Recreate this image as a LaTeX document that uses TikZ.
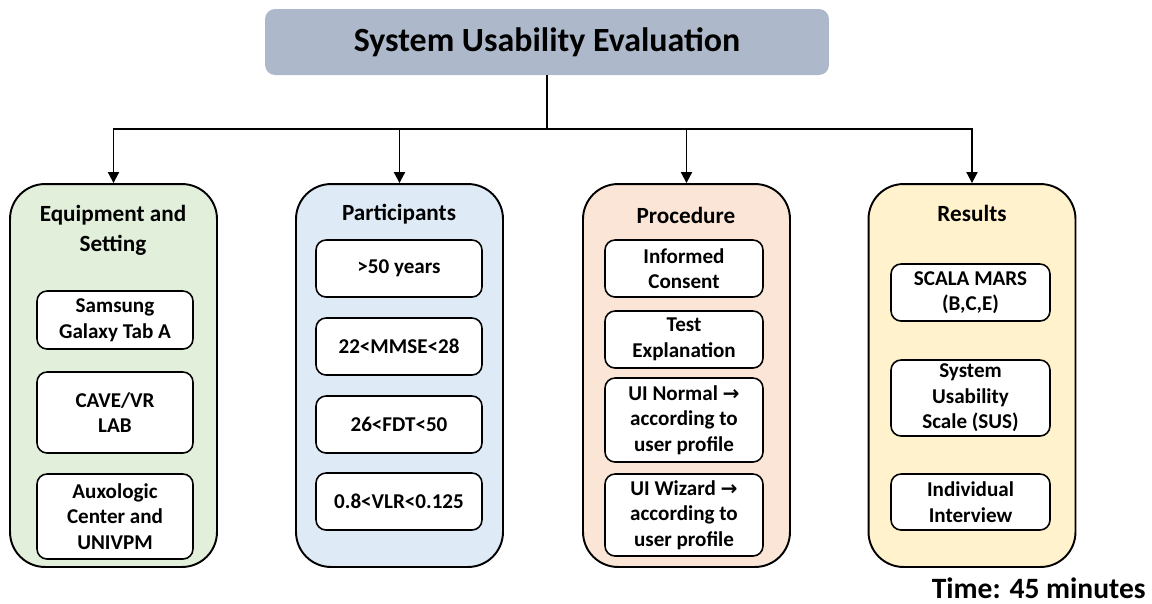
\documentclass[tikz,border=0pt]{standalone}
\usepackage{fontspec}
\setmainfont{Carlito}
\newfontfamily\symfont{DejaVu Sans}
\usetikzlibrary{arrows.meta}
\definecolor{titlefill}{HTML}{ADB9CA}
\definecolor{greenfill}{HTML}{E2EFDA}
\definecolor{bluefill}{HTML}{DEEBF7}
\definecolor{orangefill}{HTML}{FBE5D6}
\definecolor{yellowfill}{HTML}{FFF2CC}
\tikzset{
  titlebox/.style={fill=titlefill, rounded corners=0.2cm, minimum width=11.28cm, minimum height=1.32cm, font=\fontsize{19.3}{23}\selectfont\bfseries},
  colbox/.style={draw=black, line width=1.1pt, rounded corners=0.7cm, minimum width=4.14cm, minimum height=7.66cm},
  coltitle/.style={align=center, font=\fontsize{13.2}{17}\selectfont\bfseries},
  item/.style={draw=black, fill=white, line width=0.9pt, rounded corners=0.2cm, align=center, inner sep=1pt, font=\fontsize{12}{14.6}\selectfont\bfseries},
  conn/.style={line width=1.1pt, draw=black},
  arr/.style={conn, -{Triangle[length=2.2mm,width=2.2mm]}}
}
\newcommand\rarrow{{\symfont\fontsize{11.5}{14.6}\selectfont →}}
\begin{document}
\begin{tikzpicture}[x=0.02cm,y=-0.02cm]
\useasboundingbox (0,0) rectangle (1152,603);
% title
\node[titlebox] (title) at (547,42) {System Usability Evaluation};
% columns
\node[colbox, fill=greenfill] (eq) at (113.5,375.5) {};
\node[colbox, fill=bluefill] (pa) at (399.5,375.5) {};
\node[colbox, fill=orangefill] (pr) at (686.5,375.5) {};
\node[colbox, fill=yellowfill] (re) at (972,375.5) {};
% column titles
\node[coltitle] (eqt) at (113,230) {Equipment and\\Setting};
\node[coltitle] (pat) at (399,214) {Participants};
\node[coltitle] (prt) at (686,215) {Procedure};
\node[coltitle] (ret) at (972,213) {Results};
% equipment items
\node[item, minimum width=3.12cm, minimum height=1.16cm] (eq1) at (115,320) {Samsung\\Galaxy Tab A};
\node[item, minimum width=3.12cm, minimum height=1.62cm] (eq2) at (115,412.5) {CAVE/VR\\LAB};
\node[item, minimum width=3.12cm, minimum height=1.70cm] (eq3) at (115,516.5) {Auxologic\\Center and\\UNIVPM};
% participants items
\node[item, minimum width=3.32cm, minimum height=1.14cm] (pa1) at (399,268.5) {>50 years};
\node[item, minimum width=3.32cm, minimum height=1.14cm] (pa2) at (399,346.5) {22<MMSE<28};
\node[item, minimum width=3.32cm, minimum height=1.14cm] (pa3) at (399,424.5) {26<FDT<50};
\node[item, minimum width=3.32cm, minimum height=1.14cm] (pa4) at (399,501.5) {0.8<VLR<0.125};
% procedure items
\node[item, minimum width=3.16cm, minimum height=1.14cm] (pr1) at (684,268.5) {Informed\\Consent};
\node[item, minimum width=3.16cm, minimum height=1.14cm] (pr2) at (684,339.5) {Test\\Explanation};
\node[item, minimum width=3.16cm, minimum height=1.68cm] (pr3) at (684,420) {UI Normal \rarrow\\according to\\user profile};
\node[item, minimum width=3.16cm, minimum height=1.64cm] (pr4) at (684,515) {UI Wizard \rarrow\\according to\\user profile};
% results items
\node[item, minimum width=3.18cm, minimum height=1.14cm] (re1) at (970.5,292.5) {SCALA MARS\\(B,C,E)};
\node[item, minimum width=3.18cm, minimum height=1.52cm] (re2) at (970.5,398) {System\\Usability\\Scale (SUS)};
\node[item, minimum width=3.18cm, minimum height=1.12cm] (re3) at (970.5,502) {Individual\\Interview};
% time
\node[anchor=base east, inner sep=0pt, font=\fontsize{16.8}{20}\selectfont\bfseries] (time) at (1146,598) {Time: 45 minutes};
% connectors
\coordinate (hub) at (547,129);
\draw[conn] (title.south) -- (hub);
\draw[arr] (hub) -| (eq.north);
\draw[arr] (hub) -| (pa.north);
\draw[arr] (hub) -| (pr.north);
\draw[arr] (hub) -| (re.north);
\end{tikzpicture}
\end{document}
